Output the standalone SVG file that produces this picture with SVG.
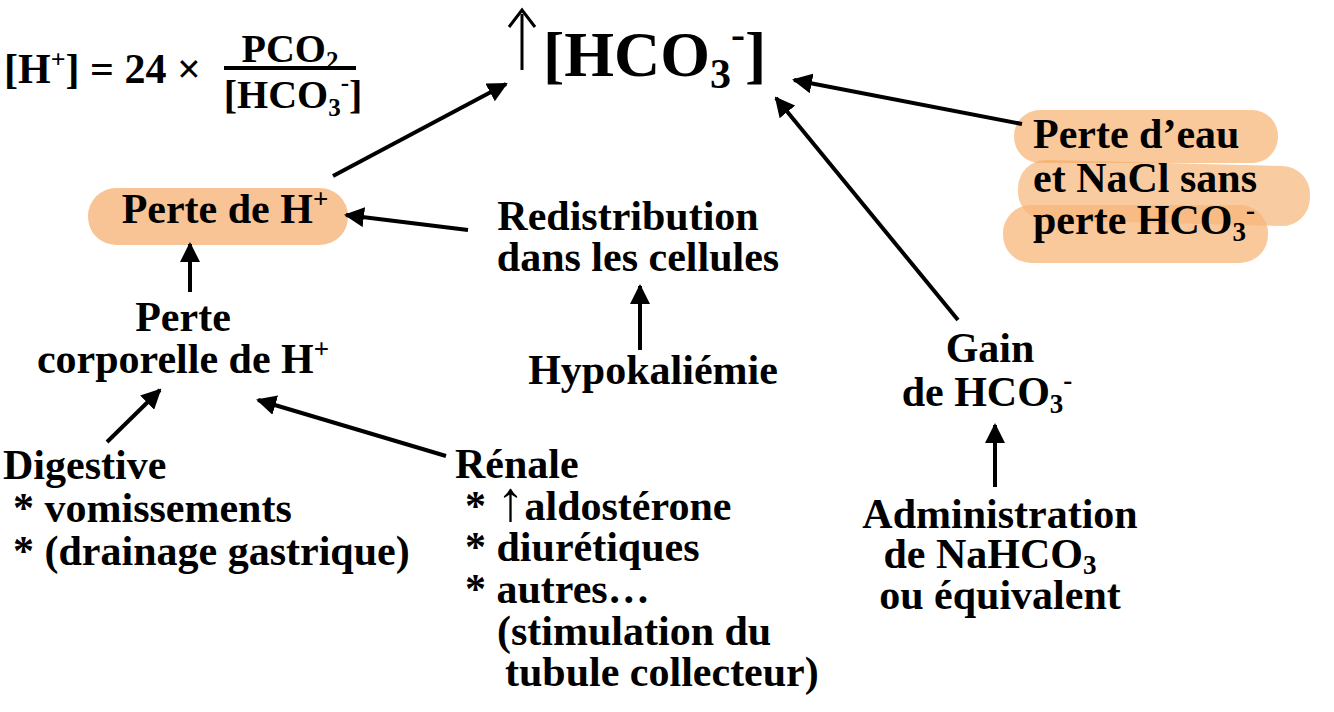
<svg xmlns="http://www.w3.org/2000/svg" width="1334" height="712" viewBox="0 0 1334 712">
<style>
text{font-family:"Liberation Serif","Times New Roman",serif;font-weight:bold;fill:#000}
.t{font-size:42px}
.c{text-anchor:middle}
.s{font-size:27px}
.pill{fill:#f7b57a;opacity:0.75}
.pill2{fill:#f5a860;opacity:0.6}
.ar{stroke:#000;stroke-width:4;fill:none;marker-end:url(#ah)}
</style>
<defs>
<marker id="ah" viewBox="0 0 10 10" refX="9" refY="5" markerWidth="5" markerHeight="5" orient="auto" markerUnits="strokeWidth">
<path d="M0,0 L10,5 L0,10 z" fill="#000"/>
</marker>
</defs>
<g id="formula">
<text x="4" y="83" font-size="42">[H<tspan font-size="26" dy="-15">+</tspan><tspan dy="15">] = 24 ×</tspan></text>
<text x="290" y="62" font-size="40" class="c">PCO<tspan font-size="25" dy="7">2</tspan></text>
<rect x="224" y="66" width="132" height="4" fill="#000"/>
<text x="293" y="108" font-size="40" class="c">[HCO<tspan font-size="25" dy="8">3</tspan><tspan font-size="25" dy="-25">-</tspan><tspan dy="17">]</tspan></text>
</g>
<g id="hco3">
<line x1="522" y1="70" x2="522" y2="14" stroke="#000" stroke-width="3"/>
<path d="M509,27 L522,10 L535,27" stroke="#000" stroke-width="3" fill="none"/>
<text x="543" y="76" font-size="64">[HCO<tspan font-size="42" dy="12">3</tspan><tspan font-size="42" dy="-40">-</tspan><tspan dy="28">]</tspan></text>
</g>
<g id="perte-h">
<rect x="88" y="188" width="260" height="57" rx="28" fill="#f8c495"/>
<text x="225" y="223" class="t c">Perte de H<tspan class="s" dy="-15">+</tspan></text>
</g>
<g id="redistribution">
<text x="628" y="230" class="t c">Redistribution</text>
<text x="638" y="271" class="t c">dans les cellules</text>
</g>
<g id="hypokaliemie">
<text x="653" y="384" class="t c">Hypokaliémie</text>
</g>
<g id="perte-corporelle">
<text x="183" y="331" class="t c">Perte</text>
<text x="183" y="373" class="t c">corporelle de H<tspan class="s" dy="-15">+</tspan></text>
</g>
<g id="digestive">
<text x="3" y="479" class="t">Digestive</text>
<text x="13" y="522" class="t">* vomissements</text>
<text x="13" y="565" class="t">* (drainage gastrique)</text>
</g>
<g id="renale">
<text x="455" y="478" class="t">Rénale</text>
<text x="465" y="520" class="t">* <tspan font-weight="normal" font-size="56">↑</tspan>aldostérone</text>
<text x="465" y="561" class="t">* diurétiques</text>
<text x="465" y="603" class="t">* autres…</text>
<text x="497" y="645" class="t">(stimulation du</text>
<text x="505" y="686" class="t">tubule collecteur)</text>
</g>
<g id="gain">
<text x="990" y="362" class="t c">Gain</text>
<text x="987" y="406" class="t c">de HCO<tspan class="s" dy="7">3</tspan><tspan class="s" dy="-24">-</tspan></text>
</g>
<g id="administration">
<text x="1000" y="528" class="t c">Administration</text>
<text x="990" y="568" class="t c">de NaHCO<tspan class="s" dy="6">3</tspan></text>
<text x="1000" y="609" class="t c">ou équivalent</text>
</g>
<g id="perte-eau">
<rect x="1014" y="110" width="264" height="53" rx="26" class="pill"/>
<rect x="1018" y="163" width="292" height="60" rx="28" class="pill2" transform="rotate(1.5 1164 193)"/>
<rect x="1003" y="205" width="265" height="58" rx="28" class="pill"/>
<text x="1033" y="148" class="t">Perte d’eau</text>
<text x="1033" y="192" class="t">et NaCl sans</text>
<text x="1033" y="234" class="t">perte HCO<tspan class="s" dy="7">3</tspan><tspan class="s" dy="-22">-</tspan></text>
</g>
<g id="connectors">
<line class="ar" x1="333" y1="176" x2="506" y2="84"/>
<line class="ar" x1="468" y1="230" x2="346" y2="215"/>
<line class="ar" x1="640" y1="350" x2="640" y2="286"/>
<line class="ar" x1="190" y1="292" x2="190" y2="244"/>
<line class="ar" x1="107" y1="442" x2="160" y2="390"/>
<line class="ar" x1="446" y1="456" x2="258" y2="400"/>
<line class="ar" x1="958" y1="320" x2="776" y2="98"/>
<line class="ar" x1="1022" y1="124" x2="794" y2="80"/>
<line class="ar" x1="995" y1="487" x2="995" y2="425"/>
</g>
</svg>
